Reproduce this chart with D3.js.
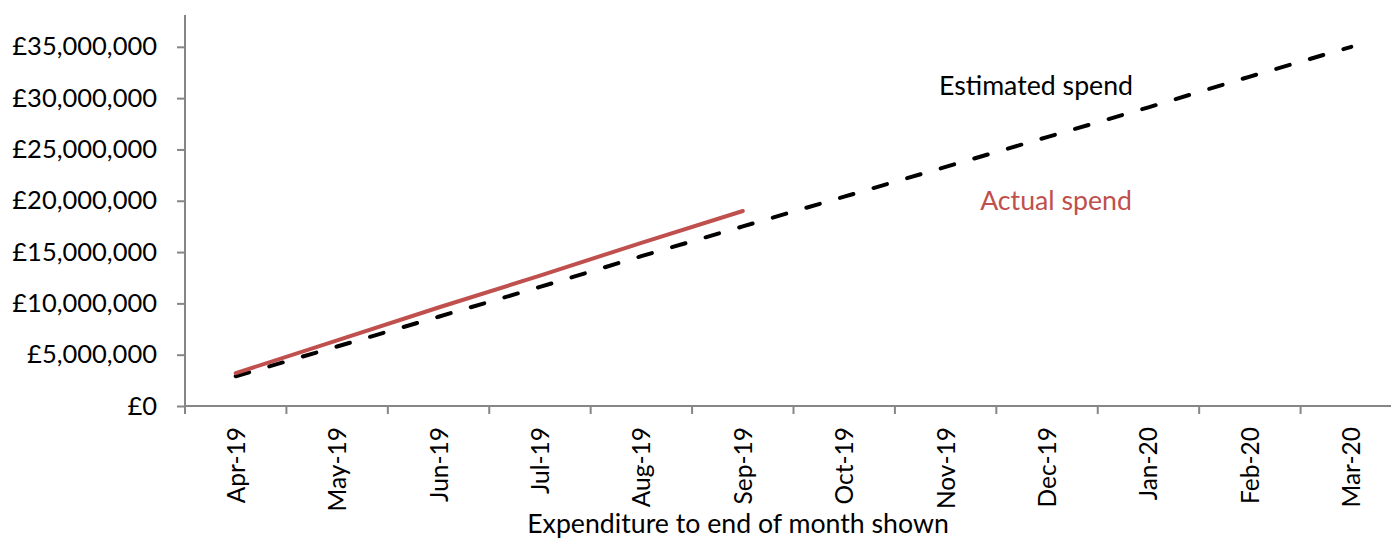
<!DOCTYPE html>
<html><head><meta charset="utf-8">
<script src="https://d3js.org/d3.v7.min.js"></script>
<style>body{margin:0;background:#fff;} svg{display:block;font-family:Lato,"Open Sans",sans-serif;}</style>
</head><body>
<svg id="c" width="1391" height="538"></svg>
<script>
const months = ["Apr-19","May-19","Jun-19","Jul-19","Aug-19","Sep-19","Oct-19","Nov-19","Dec-19","Jan-20","Feb-20","Mar-20"];
const estimated = [2.9e6,5.8e6,8.7e6,11.6e6,14.6e6,17.5e6,20.4e6,23.3e6,26.2e6,29.1e6,32.1e6,35.0e6];
const actual = [3.2e6,6.4e6,9.6e6,12.7e6,15.9e6,19.0e6];
const yTicks = [0,5e6,10e6,15e6,20e6,25e6,30e6,35e6];

(function(){
const svg = d3.select("#c");
const mLeft = 185, mRight = 1402, mTop = 15, mBottom = 406;
const x = d3.scaleBand().domain(months).range([mLeft, mRight]);
const y = d3.scaleLinear().domain([0, 38.1e6]).range([mBottom, mTop]);
const axisColor = "#868686";
const fmt = v => "£" + d3.format(",")(v);

// y axis
const ya = svg.append("g").attr("transform", `translate(${mLeft},0)`)
  .call(d3.axisLeft(y).tickValues(yTicks).tickFormat(fmt).tickSize(8).tickPadding(20));
ya.select(".domain").remove();
ya.append("line").attr("x1",0).attr("x2",0).attr("y1",mTop).attr("y2",mBottom).attr("stroke",axisColor).attr("stroke-width",2);
ya.selectAll(".tick line").attr("stroke",axisColor).attr("stroke-width",2);
ya.selectAll(".tick text").attr("fill","#000").style("font-size","25.5px").attr("font-family","Lato, 'Open Sans', sans-serif");

// x axis
const xa = svg.append("g").attr("transform", `translate(0,${mBottom})`);
xa.append("line").attr("x1",mLeft).attr("x2",1391).attr("y1",0).attr("y2",0).attr("stroke",axisColor).attr("stroke-width",2);
const edges = months.map(m => x(m)).concat([x(months[months.length-1]) + x.bandwidth()]);
xa.selectAll("line.t").data(edges).enter().append("line").attr("class","t")
  .attr("x1",d=>d).attr("x2",d=>d).attr("y1",0).attr("y2",8).attr("stroke",axisColor).attr("stroke-width",2);
xa.selectAll("text.m").data(months).enter().append("text").attr("class","m")
  .attr("transform", d => `translate(${x(d)+x.bandwidth()/2+9},21) rotate(-90)`)
  .attr("text-anchor","end").style("font-size","24.5px").attr("fill","#000").text(d=>d);

svg.append("text").attr("x",738).attr("y",533).attr("text-anchor","middle")
  .style("font-size","26.7px").attr("fill","#000").text("Expenditure to end of month shown");

const line = d3.line().x((d,i)=>x(months[i])+x.bandwidth()/2).y(d=>y(d));
svg.append("path").datum(estimated).attr("d",line).attr("fill","none")
  .attr("stroke","#000").attr("stroke-width",4).attr("stroke-dasharray","14,21").attr("stroke-linecap","round");
svg.append("path").datum(actual).attr("d",line).attr("fill","none")
  .attr("stroke","#C0504D").attr("stroke-width",4).attr("stroke-linecap","round");

svg.append("text").attr("x",1036).attr("y",95).attr("text-anchor","middle").style("font-size","26.7px").attr("fill","#000").text("Estimated spend");
svg.append("text").attr("x",1056).attr("y",210).attr("text-anchor","middle").style("font-size","26.7px").attr("fill","#C0504D").text("Actual spend");
})();
</script>
</body></html>
